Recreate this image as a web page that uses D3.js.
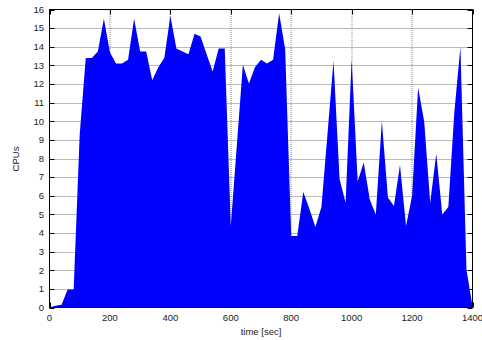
<!DOCTYPE html>
<html>
<head>
<meta charset="utf-8">
<script src="https://cdn.jsdelivr.net/npm/d3@7/dist/d3.min.js"></script>
<style>
  html, body { margin: 0; padding: 0; background: #fff; }
  svg { display: block; font-family: "Liberation Sans", Arial, Helvetica, sans-serif; }
</style>
</head>
<body>
<svg id="chart" width="482" height="340"></svg>
<script>
// time [sec] samples
const times = [0,20,40,60,80,100,120,140,160,180,200,220,240,260,280,300,320,340,360,380,
  400,420,440,460,480,500,520,540,560,580,600,620,640,660,680,700,720,740,760,780,
  800,820,840,860,880,900,920,940,960,980,1000,1020,1040,1060,1080,1100,1120,1140,1160,1180,
  1200,1220,1240,1260,1280,1300,1320,1340,1360,1380,1400];
// CPUs in use
const cpus = [0,0.1,0.15,0.97,0.97,9.3,13.4,13.4,13.75,15.5,13.7,13.1,13.1,13.3,15.5,13.75,13.75,12.2,12.9,13.4,
  15.67,13.9,13.75,13.6,14.7,14.55,13.6,12.67,13.9,13.9,4.38,8.7,13.03,12.03,12.9,13.3,13.1,13.3,15.8,13.87,
  3.84,3.84,6.2,5.3,4.32,5.4,9.3,13.25,6.9,5.63,13.33,6.76,7.78,5.8,5.0,10.02,5.9,5.45,7.65,4.37,
  6.0,11.8,10.0,5.63,8.26,5.0,5.4,10.5,14.0,2.04,0.05];
const xTicks = [0,200,400,600,800,1000,1200,1400];
const yTicks = [0,1,2,3,4,5,6,7,8,9,10,11,12,13,14,15,16];
const xLabel = "time [sec]";
const yLabel = "CPUs";

const svg = d3.select("#chart");
const L = 49.5, R = 472.5, T = 9.5, B = 307.5;
const x = d3.scaleLinear().domain([0, 1400]).range([L, R]);
const y = d3.scaleLinear().domain([0, 16]).range([B, T]);
const data = times.map((t, i) => ({t, v: cpus[i]}));

// grid
const grid = svg.append("g");
grid.selectAll("line.h").data(yTicks.filter(d => d > 0 && d < 16)).join("line")
  .attr("x1", L).attr("x2", R)
  .attr("y1", d => Math.round(y(d)) + 0.5).attr("y2", d => Math.round(y(d)) + 0.5)
  .attr("stroke", "#777").attr("stroke-width", 1).attr("stroke-dasharray", "1,1");
grid.selectAll("line.v").data(xTicks.filter(d => d > 0 && d < 1400)).join("line")
  .attr("y1", 10).attr("y2", 307)
  .attr("x1", d => Math.round(x(d))).attr("x2", d => Math.round(x(d)))
  .attr("stroke", "#888").attr("stroke-width", 1).attr("stroke-dasharray", "1,1");

// tick marks (all four sides, inward)
const tl = 5;
const ticks = svg.append("g").attr("stroke", "#000").attr("stroke-width", 1);
yTicks.forEach(d => {
  const yy = Math.round(y(d)) + 0.5;
  ticks.append("line").attr("x1", L).attr("x2", L + tl).attr("y1", yy).attr("y2", yy);
  ticks.append("line").attr("x1", R - tl).attr("x2", R).attr("y1", yy).attr("y2", yy);
});
xTicks.forEach(d => {
  const xx = Math.round(x(d)) + 0.5;
  ticks.append("line").attr("x1", xx).attr("x2", xx).attr("y1", B).attr("y2", B - tl);
  ticks.append("line").attr("x1", xx).attr("x2", xx).attr("y1", T).attr("y2", T + tl);
});

// area
const area = d3.area().x(d => x(d.t)).y0(y(0)).y1(d => y(d.v)).curve(d3.curveLinear);
svg.append("path").datum(data).attr("d", area).attr("fill", "#0000ff").attr("stroke", "none");

// border
svg.append("rect").attr("x", L).attr("y", T).attr("width", R - L).attr("height", B - T)
  .attr("fill", "none").attr("stroke", "#000").attr("stroke-width", 1);

// tick labels
svg.append("g").selectAll("text").data(yTicks).join("text")
  .attr("x", 44).attr("y", d => y(d)).attr("dy", "0.35em")
  .attr("text-anchor", "end").attr("font-size", 9.5).attr("fill", "#222")
  .text(d => d);
svg.append("g").selectAll("text").data(xTicks).join("text")
  .attr("x", d => x(d)).attr("y", 320.5)
  .attr("text-anchor", "middle").attr("font-size", 9.5).attr("fill", "#222")
  .text(d => d);

// axis titles
svg.append("text").attr("x", 261).attr("y", 334.5).attr("text-anchor", "middle")
  .attr("font-size", 9.5).attr("fill", "#222").text(xLabel);
svg.append("text").attr("transform", "translate(19,159) rotate(-90)")
  .attr("text-anchor", "middle").attr("font-size", 9.5).attr("fill", "#222").text(yLabel);
</script>
</body>
</html>
